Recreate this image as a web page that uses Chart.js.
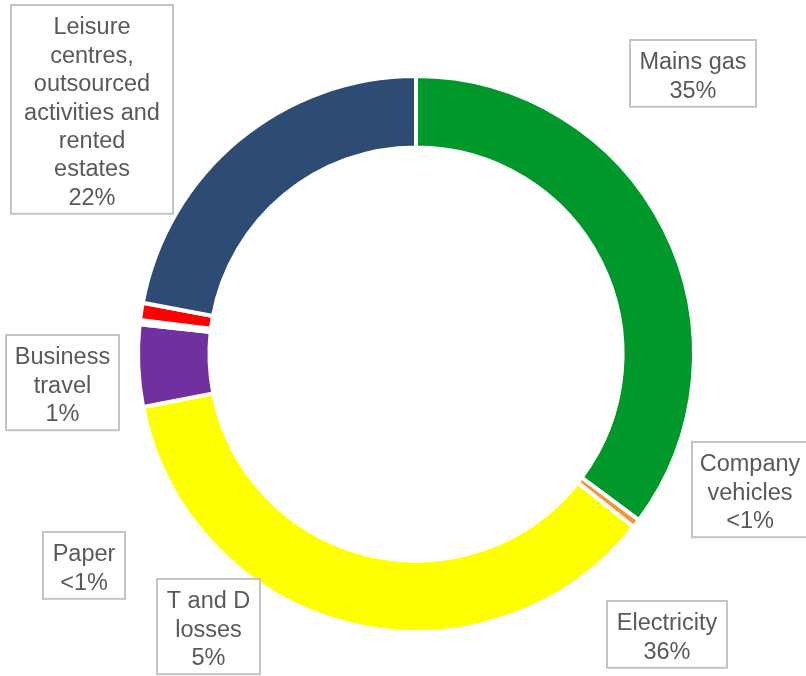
<!DOCTYPE html>
<html>
<head>
<meta charset="utf-8">
<script src="https://cdn.jsdelivr.net/npm/chart.js@4/dist/chart.umd.min.js"></script>
<style>
  html, body { margin: 0; padding: 0; background: #ffffff; }
  #wrap { width: 806px; height: 676px; }
</style>
</head>
<body>
<div id="wrap"><canvas id="emissionsChart" width="806" height="676"></canvas></div>
<script>
// Categories, clockwise from the top
const categories = ['Mains gas', 'Company vehicles', 'Electricity', 'T and D losses', 'Paper', 'Business travel', 'Leisure centres, outsourced activities and rented estates'];
// Share of emissions (%)
const shares = [35.2, 0.5, 36.25, 4.75, 0.25, 1.0, 22.05];
const sliceColors = ['#00982A', '#F7943A', '#FFFF00', '#7030A0', '#BFBFBF', '#FF0000', '#2E4B74'];

// Callout texts, as printed on the chart
const calloutLines = [
  ['Mains gas'],
  ['Company', 'vehicles'],
  ['Electricity'],
  ['T and D', 'losses'],
  ['Paper'],
  ['Business', 'travel'],
  ['Leisure', 'centres,', 'outsourced', 'activities and', 'rented', 'estates']
];
const calloutPct = ['35%', '<1%', '36%', '5%', '<1%', '1%', '22%'];

// where each callout box sits (left, top, width)
const calloutBoxes = [
  { x: 630, y: 40, w: 126 },
  { x: 692, y: 442, w: 116 },
  { x: 607, y: 601, w: 120 },
  { x: 157, y: 579, w: 103 },
  { x: 43, y: 532, w: 82 },
  { x: 6, y: 335, w: 113 },
  { x: 11, y: 5, w: 162 }
];

const LINE_H = 28.4;

const calloutPlugin = {
  id: 'callouts',
  afterDraw(chart) {
    const ctx = chart.ctx;
    ctx.save();
    ctx.font = '23.5px "Liberation Sans", Arial, sans-serif';
    ctx.textAlign = 'center';
    ctx.textBaseline = 'alphabetic';
    calloutBoxes.forEach((box, i) => {
      const lines = calloutLines[i].concat([calloutPct[i]]);
      const h = lines.length * LINE_H + 10;
      ctx.fillStyle = '#ffffff';
      ctx.fillRect(box.x, box.y, box.w, h);
      ctx.strokeStyle = '#C4C4C4';
      ctx.lineWidth = 2;
      ctx.strokeRect(box.x, box.y, box.w, h);
      ctx.fillStyle = '#595959';
      const cx = box.x + box.w / 2;
      lines.forEach((txt, j) => {
        ctx.fillText(txt, cx, box.y + 29.3 + j * LINE_H);
      });
    });
    ctx.restore();
  }
};

new Chart(document.getElementById('emissionsChart').getContext('2d'), {
  type: 'doughnut',
  data: {
    labels: categories,
    datasets: [{
      data: shares,
      backgroundColor: sliceColors,
      borderColor: '#ffffff',
      borderWidth: 4,
      hoverBorderWidth: 4
    }]
  },
  options: {
    responsive: false,
    animation: false,
    cutout: '74.3%',
    layout: {
      padding: { left: 136, top: 74, right: 110, bottom: 42 }
    },
    plugins: {
      legend: { display: false },
      tooltip: { enabled: false }
    }
  },
  plugins: [calloutPlugin]
});
</script>
</body>
</html>
